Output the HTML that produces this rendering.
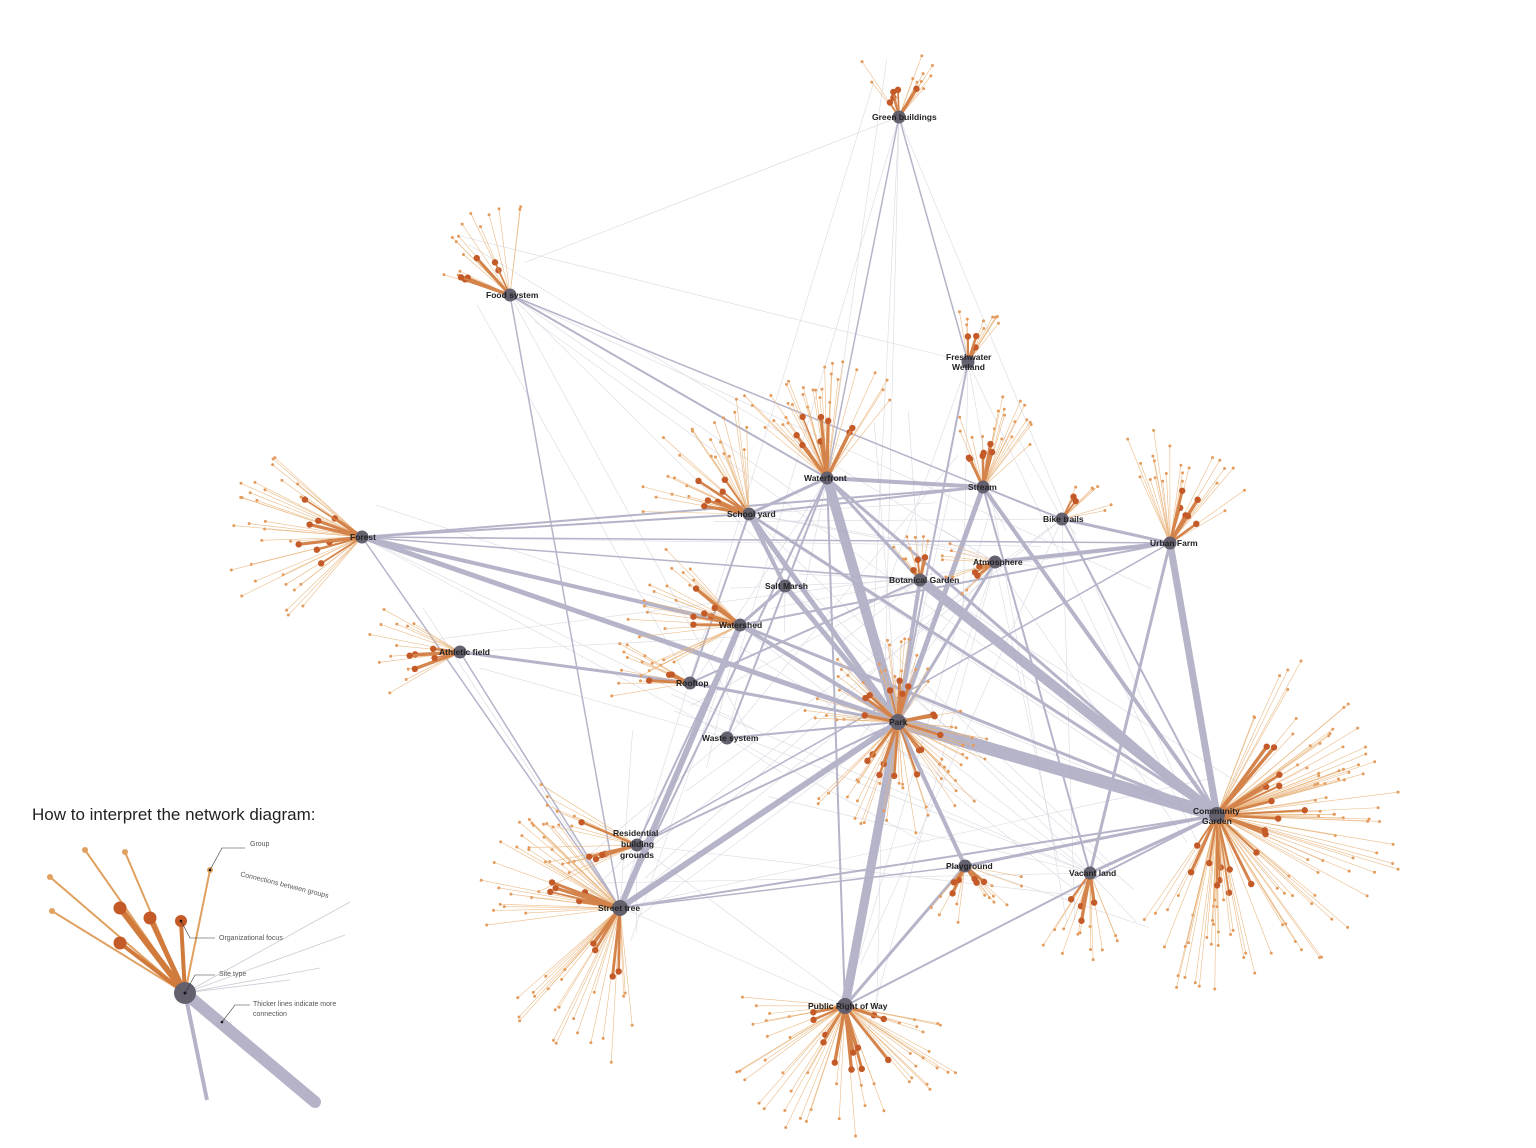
<!DOCTYPE html>
<html><head><meta charset="utf-8">
<style>
html,body{margin:0;padding:0;background:#fff;}
svg{display:block;font-family:"Liberation Sans",sans-serif;}
.hl{font-size:8.5px;font-weight:bold;fill:#222;}
.sm{font-size:7px;fill:#555;}
</style></head><body>
<svg id="s" width="1536" height="1148" viewBox="0 0 1536 1148" xmlns="http://www.w3.org/2000/svg">
<g id="thin" stroke="#c9cbd6" stroke-width="0.6" opacity="0.7"></g>
<g id="edges" stroke="#a9a7c0" stroke-linecap="round" opacity="0.85"></g>
<g id="fans"></g>
<g id="hubs" fill="#64606e"></g>
<g id="labels">
<text class="hl" x="872" y="120">Green buildings</text>
<text class="hl" x="486" y="298">Food system</text>
<text class="hl" x="946" y="360">Freshwater</text>
<text class="hl" x="952" y="370">Wetland</text>
<text class="hl" x="804" y="481">Waterfront</text>
<text class="hl" x="968" y="490">Stream</text>
<text class="hl" x="1043" y="522">Bike trails</text>
<text class="hl" x="727" y="517">School yard</text>
<text class="hl" x="350" y="540">Forest</text>
<text class="hl" x="1150" y="546">Urban Farm</text>
<text class="hl" x="973" y="565">Atmosphere</text>
<text class="hl" x="765" y="589">Salt Marsh</text>
<text class="hl" x="889" y="583">Botanical Garden</text>
<text class="hl" x="719" y="628">Watershed</text>
<text class="hl" x="439" y="655">Athletic field</text>
<text class="hl" x="676" y="686">Rooftop</text>
<text class="hl" x="889" y="725">Park</text>
<text class="hl" x="702" y="741">Waste system</text>
<text class="hl" x="1193" y="814">Community</text>
<text class="hl" x="1202" y="824">Garden</text>
<text class="hl" x="613" y="836">Residential</text>
<text class="hl" x="621" y="847">building</text>
<text class="hl" x="620" y="858">grounds</text>
<text class="hl" x="946" y="869">Playground</text>
<text class="hl" x="1069" y="876">Vacant land</text>
<text class="hl" x="598" y="911">Street tree</text>
<text class="hl" x="808" y="1009">Public Right of Way</text>
</g>
<g id="legend">
<text x="32" y="820" font-size="17" fill="#222">How to interpret the network diagram:</text>
<line x1="185" y1="993" x2="315" y2="1102" stroke="#b6b3c9" stroke-width="12" stroke-linecap="round"/>
<line x1="185" y1="993" x2="207" y2="1100" stroke="#b6b3c9" stroke-width="4"/>
<g stroke="#c9cbd6" stroke-width="0.8"><line x1="185" y1="993" x2="350" y2="902"/><line x1="185" y1="993" x2="345" y2="935"/><line x1="185" y1="993" x2="320" y2="968"/><line x1="185" y1="993" x2="290" y2="980"/></g>
<g stroke="#e0a060" stroke-width="2" stroke-linecap="round">
<line x1="185" y1="993" x2="50" y2="877"/><line x1="185" y1="993" x2="52" y2="911"/><line x1="185" y1="993" x2="85" y2="850"/><line x1="185" y1="993" x2="125" y2="852"/><line x1="185" y1="993" x2="210" y2="870"/>
</g>
<g stroke="#d07a3c" stroke-linecap="round"><line x1="185" y1="993" x2="120" y2="908" stroke-width="6"/><line x1="185" y1="993" x2="150" y2="918" stroke-width="5"/><line x1="185" y1="993" x2="120" y2="943" stroke-width="4"/><line x1="185" y1="993" x2="181" y2="921" stroke-width="4"/></g>
<g fill="#e0a060"><circle cx="50" cy="877" r="3"/><circle cx="52" cy="911" r="3"/><circle cx="85" cy="850" r="3"/><circle cx="125" cy="852" r="3"/><circle cx="210" cy="870" r="3"/></g>
<g fill="#c45a28"><circle cx="120" cy="908" r="6.5"/><circle cx="150" cy="918" r="6.5"/><circle cx="120" cy="943" r="6.5"/><circle cx="181" cy="921" r="6"/></g>
<circle cx="185" cy="993" r="11" fill="#64606e"/><circle cx="185" cy="993" r="1.5" fill="#111"/>
<circle cx="181" cy="921" r="1.3" fill="#111"/><circle cx="210" cy="870" r="1.3" fill="#111"/><circle cx="222" cy="1022" r="1.3" fill="#111"/>
<g stroke="#333" stroke-width="0.6" fill="none">
<polyline points="210,870 222,848 245,848"/><polyline points="181,921 190,938 215,938"/><polyline points="185,993 195,975 215,975"/><polyline points="222,1022 235,1005 250,1005"/>
</g>
<text class="sm" x="250" y="846">Group</text>
<text class="sm" x="219" y="940">Organizational focus</text>
<text class="sm" x="219" y="976">Site type</text>
<text class="sm" x="253" y="1006">Thicker lines indicate more</text>
<text class="sm" x="253" y="1016">connection</text>
<text class="sm" x="240" y="876" transform="rotate(14 240 876)">Connections between groups</text>
</g>
</svg>
<script>
var H={gb:[899,117],fs:[510,295],fw:[968,362],wf:[827,478],st:[983,487],bt:[1062,519],sy:[749,514],fo:[362,537],uf:[1170,543],at:[995,562],sm:[785,586],bg:[920,580],ws:[740,625],af:[460,652],ro:[690,683],pk:[898,722],wa:[727,738],cg:[1217,815],rb:[637,845],pg:[965,866],vl:[1090,873],tr:[620,908],pr:[845,1006]};
var NS="http://www.w3.org/2000/svg";
function el(p,t,a){var e=document.createElementNS(NS,t);for(var k in a)e.setAttribute(k,a[k]);p.appendChild(e);return e;}
var seed=7;function r(){seed=(seed*16807)%2147483647;return seed/2147483647;}
var E=[["pk","cg",13],["wf","pk",10],["bg","cg",10],["pr","pk",9],["uf","cg",7],["fo","pk",5],["tr","pk",6],["ws","tr",6],["sy","pk",5],["st","pk",5],["bg","pk",4],["wf","st",4],["wf","sy",3],["fo","ws",4],["ws","pk",4],["st","cg",4],["sm","pk",5],["sy","sm",4],["at","uf",4],["bt","uf",3],["vl","uf",3],["pk","pg",4],["pg","cg",3],["vl","cg",3],["tr","cg",2],["pr","pg",3],["pr","wf",2],["fo","sy",2],["fo","st",2],["ro","pk",3],["ws","uf",2],["ro","bg",2],["af","ro",3],["fs","wf",2],["fs","bt",1.5],["gb","wf",1.5],["gb","fw",1.5],["fs","tr",1.5],["fo","tr",1.5],["af","tr",1.5],["wf","cg",3],["sy","cg",3],["fw","pk",2],["st","bt",2],["wf","bg",3],["at","pk",3],["ws","sm",3],["wa","wf",2],["wa","pk",2],["rb","pk",2],["rb","uf",1.5],["tr","pg",1.5],["pr","cg",2],["st","vl",2],["bt","cg",2],["sy","st",2],["tr","wf",2],["ws","cg",3],["ro","sy",2],["fo","uf",1.5],["fo","bg",1.5],["rb","ws",2]];
var g=document.getElementById("edges");
E.forEach(function(e){var a=H[e[0]],b=H[e[1]];el(g,"line",{x1:a[0],y1:a[1],x2:b[0],y2:b[1],"stroke-width":e[2]});});
var th=document.getElementById("thin");var ks=Object.keys(H);
for(var i=0;i<90;i++){var a=H[ks[Math.floor(r()*ks.length)]],b=H[ks[Math.floor(r()*ks.length)]];el(th,"line",{x1:a[0]+(r()-.5)*120,y1:a[1]+(r()-.5)*120,x2:b[0],y2:b[1]});}
var F=[["gb",-90,90,10,65,5],["fs",-125,90,14,95,6],["fw",-80,60,10,55,3],["wf",-95,100,30,120,8],["st",-85,90,18,90,6],["bt",-40,60,6,50,2],["sy",-135,90,24,110,6],["fo",180,100,30,130,8],["uf",-70,90,22,110,6],["at",170,70,8,55,3],["bg",-100,60,8,45,3],["ws",190,80,22,115,6],["af",180,70,12,95,5],["ro",190,60,10,80,3],["pk",-80,60,14,80,4],["pk",90,100,24,110,7],["pk",20,80,16,95,4],["pk",200,60,12,90,3],["cg",-40,60,30,170,5],["cg",5,50,28,180,5],["cg",70,70,30,170,6],["cg",110,60,14,140,4],["rb",180,70,14,110,5],["pg",40,60,8,60,3],["pg",110,40,5,55,3],["vl",100,70,12,90,4],["tr",200,70,24,140,5],["tr",110,60,22,150,4],["pr",90,120,30,130,8],["pr",170,40,8,100,2],["pr",20,40,8,100,2]];
var fg=document.getElementById("fans");
F.forEach(function(f){var c=H[f[0]];for(var j=0;j<f[3];j++){var an=(f[1]+(r()-.5)*f[2])*Math.PI/180,L=f[4]*(0.55+r()*0.5);var x=c[0]+Math.cos(an)*L,y=c[1]+Math.sin(an)*L;el(fg,"line",{x1:c[0],y1:c[1],x2:x,y2:y,stroke:"#e8b37a","stroke-width":0.6,opacity:0.9});el(fg,"circle",{cx:x,cy:y,r:1.5,fill:"#e49c5e"});}
for(var j=0;j<f[5];j++){var an=(f[1]+(r()-.5)*f[2]*0.8)*Math.PI/180,L=f[4]*(0.25+r()*0.3);var x=c[0]+Math.cos(an)*L,y=c[1]+Math.sin(an)*L;el(fg,"line",{x1:c[0],y1:c[1],x2:x,y2:y,stroke:"#d4834a","stroke-width":1.5+r()*2,"stroke-linecap":"round"});el(fg,"circle",{cx:x,cy:y,r:3.2,fill:"#c45a28"});}});
var hg=document.getElementById("hubs");ks.forEach(function(k){var s=(k=="pk"||k=="cg"||k=="pr"||k=="tr")?8:6.5;el(hg,"circle",{cx:H[k][0],cy:H[k][1],r:s});});
</script>
</body></html>
